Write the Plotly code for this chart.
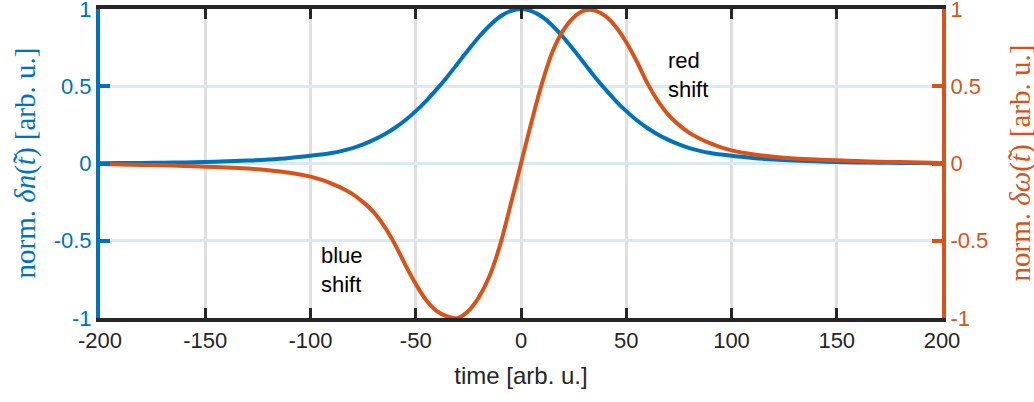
import plotly.graph_objects as go

# time axis samples [arb. u.]
time_x = [-200, -190, -180, -170, -160, -150, -140, -130, -120, -110, -100, -95, -90, -85, -80, -75,
          -70, -65, -60, -55, -50, -45, -40, -35, -30, -25, -20, -15, -10, -5, 0,
          5, 10, 15, 20, 25, 30, 35, 40, 45, 50, 55, 60, 65, 70, 75, 80, 85, 90, 95, 100,
          110, 120, 130, 140, 150, 160, 170, 180, 190, 200]

# normalised delta n (left axis, blue)
delta_n = [0.002, 0.0025, 0.0035, 0.005, 0.007, 0.010, 0.014, 0.019, 0.026, 0.036, 0.050, 0.058,
           0.068, 0.082, 0.100, 0.124, 0.153, 0.188, 0.230, 0.280, 0.339, 0.406, 0.481, 0.562,
           0.649, 0.736, 0.819, 0.892, 0.950, 0.987, 1.0,
           0.987, 0.950, 0.892, 0.819, 0.736, 0.649, 0.562, 0.481, 0.406, 0.339, 0.280, 0.230,
           0.188, 0.153, 0.124, 0.100, 0.082, 0.068, 0.058, 0.050,
           0.036, 0.026, 0.019, 0.014, 0.010, 0.007, 0.005, 0.0035, 0.0025, 0.002]

# normalised delta omega (right axis, orange)
delta_w = [-0.004, -0.006, -0.009, -0.012, -0.016, -0.021, -0.026, -0.033, -0.044, -0.060, -0.085,
           -0.105, -0.13, -0.16, -0.198, -0.25, -0.315, -0.405, -0.52, -0.655, -0.78, -0.885, -0.955,
           -0.99, -1.0, -0.955, -0.865, -0.73, -0.53, -0.27, 0.0,
           0.27, 0.52, 0.725, 0.86, 0.945, 0.99, 0.99, 0.955, 0.885, 0.785, 0.66, 0.52, 0.405,
           0.315, 0.25, 0.198, 0.16, 0.13, 0.105, 0.085,
           0.060, 0.044, 0.033, 0.026, 0.021, 0.016, 0.012, 0.009, 0.006, 0.004]

x_ticks = [-200, -150, -100, -50, 0, 50, 100, 150, 200]
x_tick_text = ["-200", "-150", "-100", "-50", "0", "50", "100", "150", "200"]
y_ticks = [-1, -0.5, 0, 0.5, 1]
y_tick_text = ["-1", "-0.5", "0", "0.5", "1"]

BLUE = "#0072BD"
ORANGE = "#D95319"
DARK = "#262626"
SANS = "Liberation Sans, Arial, sans-serif"
SERIF = "Liberation Serif, Times New Roman, serif"

fig = go.Figure()
fig.add_trace(go.Scatter(x=time_x, y=delta_n, mode="lines", line=dict(color=BLUE, width=4, shape="spline"),
                         yaxis="y", showlegend=False))
fig.add_trace(go.Scatter(x=time_x, y=delta_w, mode="lines", line=dict(color=ORANGE, width=4, shape="spline"),
                         yaxis="y2", showlegend=False))

YR = [-1.00001, 1.00001]

fig.update_layout(
    width=1034, height=402,
    margin=dict(l=100, r=92, t=9, b=84, autoexpand=False),
    plot_bgcolor="white", paper_bgcolor="white",
    font=dict(family=SANS, size=22, color=DARK),
    xaxis=dict(range=[-200, 200], tickvals=x_ticks, ticktext=x_tick_text, ticks="inside", ticklen=10,
               tickwidth=3, tickcolor=DARK, showline=True, linecolor=DARK, linewidth=4, mirror="ticks",
               showgrid=True, gridcolor="#DFDFDF", gridwidth=3, zeroline=False, automargin=False,
               ticklabeloverflow="allow",
               tickfont=dict(family=SANS, size=22, color=DARK),
               title=dict(text="time [arb. u.]", font=dict(family=SANS, size=24, color=DARK), standoff=16)),
    yaxis=dict(range=YR, tickvals=y_ticks, ticktext=y_tick_text, ticks="inside", ticklen=10, tickwidth=4,
               tickcolor=BLUE, showline=True, linecolor=BLUE, linewidth=4, automargin=False,
               showgrid=True, gridcolor="#D9EAF5", gridwidth=3, zeroline=False,
               ticklabeloverflow="allow",
               tickfont=dict(family=SANS, size=22, color=BLUE)),
    yaxis2=dict(range=YR, tickvals=y_ticks, ticktext=y_tick_text, ticks="inside", ticklen=10, tickwidth=4,
                tickcolor=ORANGE, showline=True, linecolor=ORANGE, linewidth=4, automargin=False,
                overlaying="y", side="right", showgrid=False, zeroline=False,
                ticklabeloverflow="allow",
                tickfont=dict(family=SANS, size=22, color=ORANGE)),
)

fig.add_annotation(text="norm. <i>δn</i>(<i>t̃</i>) [arb. u.]", xref="paper", yref="paper",
                   x=(25 - 100) / 842, y=0.5, xanchor="center", yanchor="middle", textangle=-90,
                   showarrow=False, font=dict(family=SERIF, size=29, color=BLUE))
fig.add_annotation(text="norm. <i>δω</i>(<i>t̃</i>) [arb. u.]", xref="paper", yref="paper",
                   x=1 + (1020 - 942) / 842, y=0.5, xanchor="center", yanchor="middle", textangle=-90,
                   showarrow=False, font=dict(family=SERIF, size=29, color=ORANGE))

fig.add_annotation(text="blue<br>shift", x=-96, y=-0.69, xref="x", yref="y", xanchor="left",
                   yanchor="middle", align="left", showarrow=False, font=dict(family=SANS, size=22, color="black"))
fig.add_annotation(text="red<br>shift", x=69, y=0.57, xref="x", yref="y", xanchor="left",
                   yanchor="middle", align="left", showarrow=False, font=dict(family=SANS, size=22, color="black"))

fig.write_html("out.html")
